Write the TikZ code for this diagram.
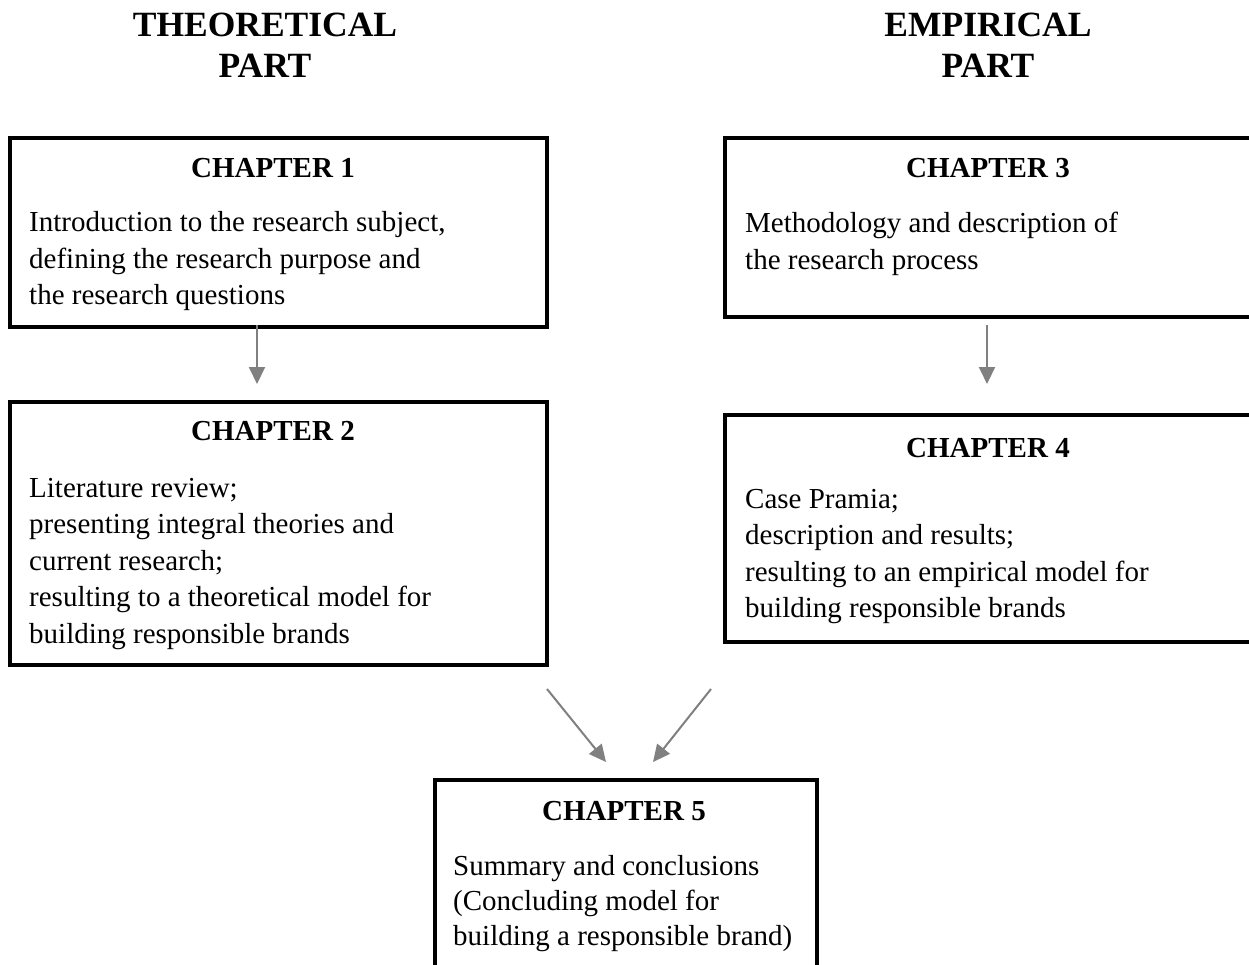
\documentclass[tikz,border=0pt]{standalone}
\usepackage{fontspec}
\setmainfont{Liberation Serif}
\usetikzlibrary{arrows.meta}
\definecolor{arrgray}{HTML}{808080}
\tikzset{
  box/.style={draw=black, line width=4pt, inner sep=0pt, anchor=north west},
  head/.style={font=\fontsize{29}{36}\selectfont\bfseries, anchor=base, inner sep=0pt},
  body/.style={font=\fontsize{29}{36.5}\selectfont, align=left, anchor=base west, inner sep=0pt},
  title/.style={font=\fontsize{35.5}{41}\selectfont\bfseries, align=center, anchor=base, inner sep=0pt},
  arr/.style={draw=arrgray, line width=2pt, -{Triangle[length=17pt,width=16pt]}, arrgray}
}
\begin{document}
\begin{tikzpicture}[x=1pt,y=-1pt]
\clip (0,0) rectangle (1249,965);
\fill[white] (0,0) rectangle (1249,965);

% titles (anchor base = baseline of last line)
\node[title] (t1) at (265,78) {THEORETICAL\\PART};
\node[title] (t2) at (988,78) {EMPIRICAL\\PART};

% boxes
\node[box, minimum width=537pt, minimum height=189pt] (b1) at (8,136) {};
\node[box, minimum width=537pt, minimum height=263pt] (b2) at (8,400) {};
\node[box, minimum width=527pt, minimum height=179pt] (b3) at (723,136) {};
\node[box, minimum width=527pt, minimum height=227pt] (b4) at (723,413) {};
\node[box, minimum width=382pt, minimum height=260pt] (b5) at (433,778) {};

% headings
\node[head] (h1) at (273,178) {CHAPTER 1};
\node[head] (h2) at (273,440) {CHAPTER 2};
\node[head] (h3) at (988,178) {CHAPTER 3};
\node[head] (h4) at (988,457) {CHAPTER 4};
\node[head] (h5) at (624,820) {CHAPTER 5};

% body texts (anchor base west = baseline of last line)
\node[body] (x1) at (29,305) {Introduction to the research subject,\\defining the research purpose and\\the research questions};
\node[body] (x2) at (29,643) {Literature review;\\presenting integral theories and\\current research;\\resulting to a theoretical model for\\building responsible brands};
\node[body] (x3) at (745,269.5) {Methodology and description of\\the research process};
\node[body] (x4) at (745,617.5) {Case Pramia;\\description and results;\\resulting to an empirical model for\\building responsible brands};
\node[body, font=\fontsize{29}{35}\selectfont] (x5) at (453,945) {Summary and conclusions\\(Concluding model for\\building a responsible brand)};

% connectors
\coordinate (a1s) at (257,325);
\coordinate (a1e) at (257,384);
\coordinate (a2s) at (987,325);
\coordinate (a2e) at (987,384);
\coordinate (a3s) at (547,689);
\coordinate (a3e) at (606,762);
\coordinate (a4s) at (711,689);
\coordinate (a4e) at (653,762);
\draw[arr] (a1s) -- (a1e);
\draw[arr] (a2s) -- (a2e);
\draw[arr] (a3s) -- (a3e);
\draw[arr] (a4s) -- (a4e);
\end{tikzpicture}
\end{document}
